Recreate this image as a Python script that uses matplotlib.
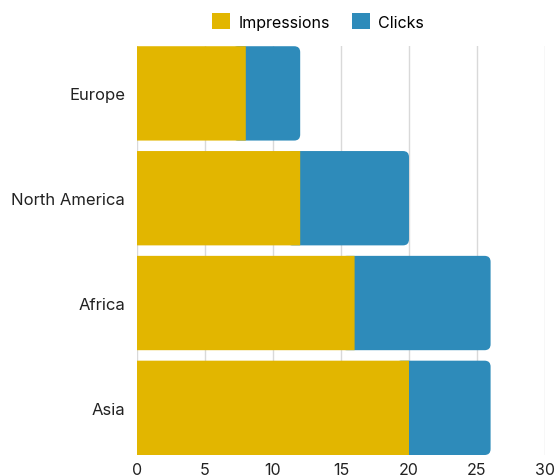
import matplotlib.pyplot as plt
from matplotlib.patches import FancyBboxPatch, Patch

# 地域ごとのインプレッションとクリック数
regions = ['Europe', 'North America', 'Africa', 'Asia']
impressions = [8, 12, 16, 20]
clicks = [4, 8, 10, 6]

YELLOW = '#E2B600'
BLUE = '#2E8BBA'
BAR_H = 0.9

plt.rcParams['font.family'] = ['Inter', 'DejaVu Sans']

fig = plt.figure(figsize=(5.56, 4.77), dpi=100)
ax = fig.add_axes([0.2464, 0.044, 0.7338, 0.857])

ys = list(range(len(regions)))

# インプレッション（左側）
ax.barh(ys, impressions, height=BAR_H, color=YELLOW, zorder=3, snap=False)

# クリック（右端だけ角丸にするため、左端を黄色の下に潜らせる）
ax.set_xlim(0, 30)
ax.set_ylim(len(regions) - 0.55, -0.45)
fig.canvas.draw()
bbox = ax.get_window_extent()
px_x = bbox.width / 30
px_y = bbox.height / (len(regions) - 0.1)
r_px = 6
for y, imp, clk in zip(ys, impressions, clicks):
    left = imp - 1
    p = FancyBboxPatch((left, y - BAR_H / 2), imp + clk - left, BAR_H,
                       boxstyle=f'round,pad=0,rounding_size={r_px / px_x}',
                       mutation_aspect=px_x / px_y,
                       facecolor=BLUE, edgecolor='none', zorder=2)
    ax.add_patch(p)

ax.set_yticks(ys)
ax.set_yticklabels(regions)
ax.set_xticks(range(0, 31, 5))
ax.tick_params(length=0, labelsize=11.5, colors='#222222')
ax.tick_params(axis='y', pad=8.5, labelsize=12)
ax.tick_params(axis='x', pad=5)
ax.grid(axis='x', color='#d9d9d9', linewidth=1, zorder=0)
ax.set_axisbelow(True)
for s in ax.spines.values():
    s.set_visible(False)

handles = [Patch(facecolor=YELLOW, label='Impressions'),
           Patch(facecolor=BLUE, label='Clicks')]
fig.legend(handles=handles, loc='center', bbox_to_anchor=(0.572, 0.953),
           ncol=2, frameon=False, fontsize=11.5, handlelength=1.15,
           handleheight=1.15, handletextpad=0.5, columnspacing=1.4)

fig.savefig('out.png', dpi=100)
